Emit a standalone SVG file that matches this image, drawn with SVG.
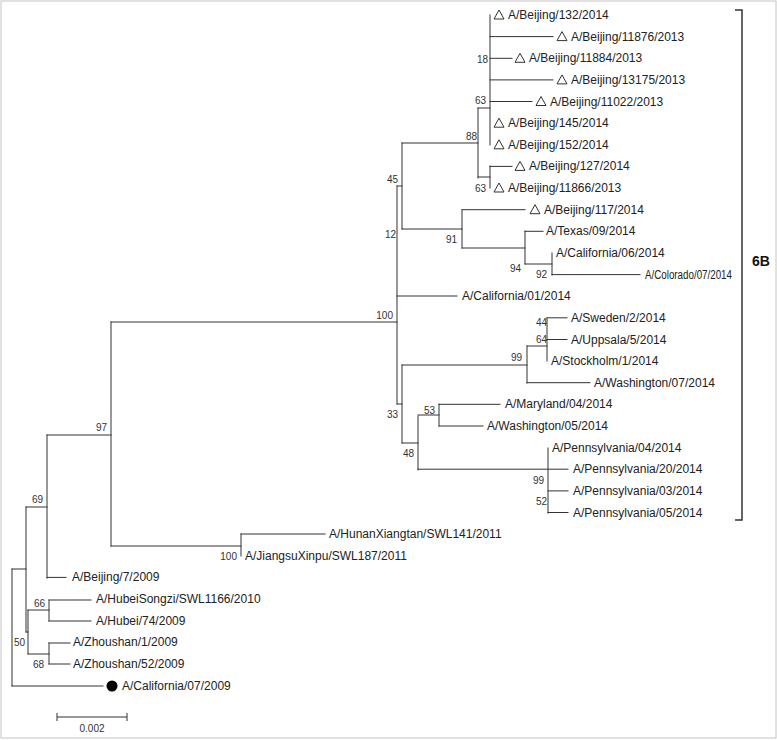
<svg xmlns="http://www.w3.org/2000/svg" xmlns:xlink="http://www.w3.org/1999/xlink" width="777" height="740" viewBox="0 0 777 740">
<style>
.br{fill:none;stroke:#333;stroke-width:1;stroke-linecap:square}
.lf{font-family:"Liberation Sans",Arial,sans-serif;font-size:12px;fill:#222}
.bs{font-family:"Liberation Sans",Arial,sans-serif;font-size:10px;fill:#333;text-anchor:end}
.tri{fill:none;stroke:#333;stroke-width:1}
</style>
<defs>
<path id="tri" class="tri" d="M0,4 L10,4 L5,-5 Z"/>
</defs>
<rect x="1" y="1" width="775" height="737" fill="#fff" stroke="#c4c4c4" stroke-width="1"/>
<g id="connectors" class="br">
<path d="M12,569 V686 M12,686 H103"/>
<path d="M12,569 H26 M26,507 V632 M26,632 H28 M28,610 V654"/>
<path d="M28,610 H49 M49,600 V621 M49,600 H91 M49,621 H91"/>
<path d="M28,654 H49 M49,643 V664 M49,643 H70 M49,664 H70"/>
<path d="M26,507 H47 M47,435 V578 M47,577.4 H66"/>
<path d="M47,435 H111 M111,322 V546 M111,546 H241 M241,534 V556 M241,534 H325"/>
<path d="M111,322 H397 M397,186 V404 M397,296 H457"/>
<path d="M397,186 H402 M402,143 V229"/>
<path d="M402,143 H478 M478,108 V178 M478,108 H490 M490,15 V145 M478,177 H490 M490,166 V188"/>
<path d="M490,36.6 H553 M490,58.3 H512 M490,79.9 H553 M490,101.5 H532 M490,166.4 H512"/>
<path d="M402,229 H462 M462,210 V248 M462,209.7 H525 M462,248 H525 M525,231 V264 M525,231.3 H543 M525,264 H552 M552,253 V275 M552,274.6 H640"/>
<path d="M397,404 H402 M402,365 V443"/>
<path d="M402,365 H527 M527,346 V383 M527,382.7 H590 M527,346 H547 M547,318 V361 M547,317.8 H567 M547,339.5 H567"/>
<path d="M402,443 H418 M418,416 V470 M418,415 H439 M439,404 V426 M439,404.3 H500 M439,426 H483"/>
<path d="M418,469.2 H568 M548,448 V513 M548,490.9 H568 M548,512.5 H568"/>
</g>
<g id="bootstrap">
<text class="bs" x="488" y="63">18</text>
<text class="bs" x="486" y="104">63</text>
<text class="bs" x="477" y="140">88</text>
<text class="bs" x="486" y="192">63</text>
<text class="bs" x="398" y="183">45</text>
<text class="bs" x="396" y="238">12</text>
<text class="bs" x="457" y="243">91</text>
<text class="bs" x="521" y="272">94</text>
<text class="bs" x="547" y="278">92</text>
<text class="bs" x="393" y="319">100</text>
<text class="bs" x="547" y="326">44</text>
<text class="bs" x="547" y="343">64</text>
<text class="bs" x="522" y="361">99</text>
<text class="bs" x="398" y="418">33</text>
<text class="bs" x="435" y="414">53</text>
<text class="bs" x="414" y="457">48</text>
<text class="bs" x="544" y="484">99</text>
<text class="bs" x="547" y="505">52</text>
<text class="bs" x="107" y="431">97</text>
<text class="bs" x="43" y="503">69</text>
<text class="bs" x="237" y="560">100</text>
<text class="bs" x="45" y="607">66</text>
<text class="bs" x="25" y="646">50</text>
<text class="bs" x="44" y="668">68</text>
</g>
<g id="leaf-01"><use xlink:href="#tri" x="494" y="15"/><text class="lf" x="508" y="19">A/Beijing/132/2014</text></g>
<g id="leaf-02"><use xlink:href="#tri" x="557" y="36.6"/><text class="lf" x="571" y="40.6">A/Beijing/11876/2013</text></g>
<g id="leaf-03"><use xlink:href="#tri" x="515" y="58.3"/><text class="lf" x="529" y="62.3">A/Beijing/11884/2013</text></g>
<g id="leaf-04"><use xlink:href="#tri" x="557" y="79.9"/><text class="lf" x="571" y="83.9">A/Beijing/13175/2013</text></g>
<g id="leaf-05"><use xlink:href="#tri" x="536" y="101.5"/><text class="lf" x="550" y="105.5">A/Beijing/11022/2013</text></g>
<g id="leaf-06"><use xlink:href="#tri" x="494" y="123.2"/><text class="lf" x="508" y="127.2">A/Beijing/145/2014</text></g>
<g id="leaf-07"><use xlink:href="#tri" x="494" y="144.8"/><text class="lf" x="508" y="148.8">A/Beijing/152/2014</text></g>
<g id="leaf-08"><use xlink:href="#tri" x="515" y="166.4"/><text class="lf" x="529" y="170.4">A/Beijing/127/2014</text></g>
<g id="leaf-09"><use xlink:href="#tri" x="494" y="188"/><text class="lf" x="508" y="192">A/Beijing/11866/2013</text></g>
<g id="leaf-10"><use xlink:href="#tri" x="530" y="209.7"/><text class="lf" x="544" y="213.7">A/Beijing/117/2014</text></g>
<g id="leaf-11"><text class="lf" x="546" y="235.3">A/Texas/09/2014</text></g>
<g id="leaf-12"><text class="lf" x="556" y="256.9">A/California/06/2014</text></g>
<g id="leaf-13"><text class="lf" x="645" y="278.6" textLength="87" lengthAdjust="spacingAndGlyphs">A/Colorado/07/2014</text></g>
<g id="leaf-14"><text class="lf" x="462" y="300.2">A/California/01/2014</text></g>
<g id="leaf-15"><text class="lf" x="571" y="321.8">A/Sweden/2/2014</text></g>
<g id="leaf-16"><text class="lf" x="571" y="343.5">A/Uppsala/5/2014</text></g>
<g id="leaf-17"><text class="lf" x="551" y="365.1">A/Stockholm/1/2014</text></g>
<g id="leaf-18"><text class="lf" x="594" y="386.7">A/Washington/07/2014</text></g>
<g id="leaf-19"><text class="lf" x="505" y="408.3">A/Maryland/04/2014</text></g>
<g id="leaf-20"><text class="lf" x="487" y="430">A/Washington/05/2014</text></g>
<g id="leaf-21"><text class="lf" x="552" y="451.6">A/Pennsylvania/04/2014</text></g>
<g id="leaf-22"><text class="lf" x="573" y="473.2">A/Pennsylvania/20/2014</text></g>
<g id="leaf-23"><text class="lf" x="573" y="494.9">A/Pennsylvania/03/2014</text></g>
<g id="leaf-24"><text class="lf" x="573" y="516.5">A/Pennsylvania/05/2014</text></g>
<g id="leaf-25"><text class="lf" x="329" y="538.1">A/HunanXiangtan/SWL141/2011</text></g>
<g id="leaf-26"><text class="lf" x="245" y="559.8">A/JiangsuXinpu/SWL187/2011</text></g>
<g id="leaf-27"><text class="lf" x="72" y="581.4">A/Beijing/7/2009</text></g>
<g id="leaf-28"><text class="lf" x="96" y="603">A/HubeiSongzi/SWL1166/2010</text></g>
<g id="leaf-29"><text class="lf" x="96" y="624.7">A/Hubei/74/2009</text></g>
<g id="leaf-30"><text class="lf" x="73" y="646.3">A/Zhoushan/1/2009</text></g>
<g id="leaf-31"><text class="lf" x="73" y="667.9">A/Zhoushan/52/2009</text></g>
<g id="leaf-32"><circle cx="112" cy="686" r="5.5" fill="#000"/><text class="lf" x="122" y="689.5">A/California/07/2009</text></g>
<g id="clade-6B">
<path d="M735,10 H742 V520 H735" fill="none" stroke="#333" stroke-width="1.5"/>
<text x="752" y="266" font-family="Liberation Sans, Arial, sans-serif" font-size="14" font-weight="bold" fill="#111">6B</text>
</g>
<g id="scale-bar">
<path d="M57,717 H127 M57,713 V721 M127,713 V721" fill="none" stroke="#333" stroke-width="1"/>
<text x="92" y="732" font-family="Liberation Sans, Arial, sans-serif" font-size="10" fill="#333" text-anchor="middle">0.002</text>
</g>
</svg>
